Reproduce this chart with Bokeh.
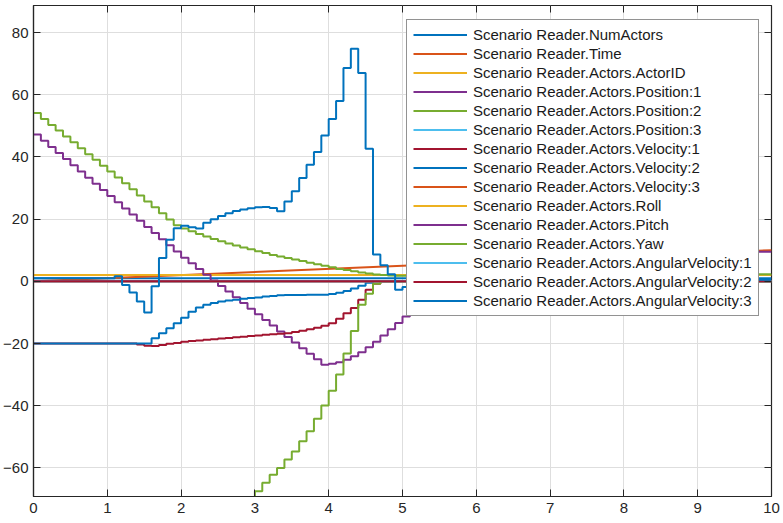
from bokeh.plotting import figure
from bokeh.models import Range1d, LinearAxis, FixedTicker, Legend, LegendItem
from bokeh.embed import file_html
from bokeh.resources import INLINE

# ---- data -------------------------------------------------------------
T = [0.0, 0.1, 0.2, 0.3, 0.4, 0.5, 0.6, 0.7, 0.8, 0.9,
     1.0, 1.1, 1.2, 1.3, 1.4, 1.5, 1.6, 1.7, 1.8, 1.9,
     2.0, 2.1, 2.2, 2.3, 2.4, 2.5, 2.6, 2.7, 2.8, 2.9,
     3.0, 3.1, 3.2, 3.3, 3.4, 3.5, 3.6, 3.7, 3.8, 3.9,
     4.0, 4.1, 4.2, 4.3, 4.4, 4.5, 4.6, 4.7, 4.8, 4.9,
     5.0]
T_TAIL = [5.1, 5.5, 6.0, 7.0, 8.0, 9.0, 10.0]
T_SPAN = [0.0, 10.0]

NUM_ACTORS = [1.0, 1.0]
TIME = [0.0, 10.0]
ACTOR_ID = [2.0, 2.0]

POSITION_1 = [47.2, 45.2, 43.2, 41.3, 39.3, 37.3, 35.3, 33.3, 31.4, 29.4,
              27.4, 25.4, 23.4, 21.5, 19.5, 17.5, 15.5, 13.5, 11.6, 9.6,
              7.6, 5.8, 4.0, 2.1, 0.3, -1.5, -3.3, -5.1, -7.0, -8.8,
              -10.6, -12.4, -14.2, -16.1, -17.9, -19.7, -21.5, -23.3, -25.1, -26.8,
              -26.5, -26.0, -25.2, -24.1, -22.8, -21.2, -19.4, -17.4, -15.4, -13.4,
              -11.3]
POSITION_1_TAIL = [-9.3, -6.0, -2.0, 3.0, 6.5, 9.5, 9.5]

POSITION_2 = [54.1, 52.2, 50.3, 48.5, 46.6, 44.7, 42.8, 40.9, 39.1, 37.2,
              35.3, 33.4, 31.5, 29.6, 27.6, 25.7, 23.8, 21.9, 19.9, 18.0,
              17.0, 16.1, 15.2, 14.4, 13.6, 12.9, 12.2, 11.5, 10.9, 10.3,
              9.7, 9.1, 8.5, 8.0, 7.5, 7.0, 6.5, 6.0, 5.5, 5.0,
              4.5, 4.0, 3.6, 3.2, 2.8, 2.5, 2.2, 2.0, 1.9, 1.8,
              1.8]
POSITION_2_TAIL = [1.8, 1.9, 2.0, 2.1, 2.2, 2.3, 2.3]

POSITION_3 = [0.0, 0.0]

VELOCITY_1 = [-20.0, -20.0, -20.0, -20.0, -20.0, -20.0, -20.0, -20.0, -20.0, -20.0,
              -20.0, -20.0, -20.0, -20.0, -20.3, -20.7, -20.8, -20.5, -20.1, -19.8,
              -19.4, -19.2, -19.0, -18.8, -18.6, -18.4, -18.2, -18.0, -17.8, -17.6,
              -17.4, -17.2, -17.0, -16.9, -16.7, -16.3, -15.9, -15.4, -14.9, -14.3,
              -13.5, -12.0, -10.3, -8.6, -5.9, -2.7, -0.8, 0.0, 0.0, 0.0,
              0.0]
VELOCITY_1_TAIL = [0.0, 0.0, 0.0, 0.0, 0.0, 0.0, 0.0]

VELOCITY_2 = [-20.0, -20.0, -20.0, -20.0, -20.0, -20.0, -20.0, -20.0, -20.0, -20.0,
              -20.0, -20.0, -20.0, -20.0, -20.0, -20.0, -18.3, -16.7, -15.1, -13.5,
              -11.7, -9.8, -8.4, -7.5, -7.0, -6.5, -6.2, -5.9, -5.6, -5.4,
              -5.2, -4.9, -4.7, -4.5, -4.4, -4.4, -4.4, -4.3, -4.3, -4.3,
              -4.1, -3.7, -3.1, -2.3, -1.4, -0.5, 0.0, 0.0, 0.0, 0.0,
              0.0]
VELOCITY_2_TAIL = [0.0, 0.0, 0.0, 0.0, 0.0, 0.0, 0.0]

VELOCITY_3 = [0.0, 0.0]
ROLL = [0.0, 0.0]
PITCH = [0.0, 0.0]

YAW_T = [2.5, 2.6, 2.7, 2.8, 2.9, 3.0, 3.1, 3.2, 3.3, 3.4,
         3.5, 3.6, 3.7, 3.8, 3.9, 4.0, 4.1, 4.2, 4.3, 4.4,
         4.5, 4.6, 4.7, 4.8, 4.9, 5.0]
YAW = [-80.0, -77.5, -75.0, -72.5, -70.0, -67.5, -64.8, -62.2, -60.0, -57.3,
       -54.7, -51.4, -48.2, -44.2, -39.9, -35.2, -30.0, -23.2, -16.0, -7.5,
       -4.0, -0.8, 0.0, 0.0, 0.0, 0.0]
YAW_TAIL = [0.0, 0.0, 0.0, 0.0, 0.0, 0.0, 0.0]

ANG_VEL_1 = [0.0, 0.0]
ANG_VEL_2 = [0.0, 0.0]

ANG_VEL_3 = [1.0, 1.0, 1.0, 1.0, 1.0, 1.0, 1.0, 1.0, 1.0, 1.0,
             1.0, 1.6, -1.2, -3.6, -6.5, -10.0, -1.6, 7.5, 13.4, 17.1,
             17.9, 17.4, 17.0, 18.8, 20.0, 21.0, 21.9, 22.6, 23.1, 23.5,
             23.8, 23.9, 23.6, 22.5, 25.7, 29.0, 33.2, 37.5, 41.6, 46.9,
             52.2, 58.0, 68.6, 74.8, 67.0, 42.6, 8.6, 5.2, 2.3, -2.7,
             -1.8]
ANG_VEL_3_TAIL = [-1.0, 0.5, 0.5, 0.5, 0.5, 0.5, 0.5]

LABELS = ["Scenario Reader.NumActors", "Scenario Reader.Time",
          "Scenario Reader.Actors.ActorID", "Scenario Reader.Actors.Position:1",
          "Scenario Reader.Actors.Position:2", "Scenario Reader.Actors.Position:3",
          "Scenario Reader.Actors.Velocity:1", "Scenario Reader.Actors.Velocity:2",
          "Scenario Reader.Actors.Velocity:3", "Scenario Reader.Actors.Roll",
          "Scenario Reader.Actors.Pitch", "Scenario Reader.Actors.Yaw",
          "Scenario Reader.Actors.AngularVelocity:1",
          "Scenario Reader.Actors.AngularVelocity:2",
          "Scenario Reader.Actors.AngularVelocity:3"]

X_TICKS = [0, 1, 2, 3, 4, 5, 6, 7, 8, 9, 10]
Y_TICKS = [-60, -40, -20, 0, 20, 40, 60, 80]

BLUE, ORANGE, YELLOW, PURPLE = "#0072BD", "#D95319", "#EDB120", "#7E2F8E"
GREEN, CYAN, DRED = "#77AC30", "#4DBEEE", "#A2142F"
COLORS = [BLUE, ORANGE, YELLOW, PURPLE, GREEN, CYAN, DRED,
          BLUE, ORANGE, YELLOW, PURPLE, GREEN, CYAN, DRED, BLUE]

# ---- figure -----------------------------------------------------------
AX = "#262626"
FONT = "Liberation Sans"

p = figure(width=783, height=523, output_backend="svg", toolbar_location=None,
           x_range=Range1d(0, 10), y_range=Range1d(-69.2, 88.7),
           min_border_left=32, min_border_right=12, min_border_top=5,
           min_border_bottom=27)
p.background_fill_color = "white"
p.border_fill_color = "white"
p.outline_line_color = AX
p.outline_line_width = 1.2

p.xaxis.ticker = FixedTicker(ticks=X_TICKS)
p.yaxis.ticker = FixedTicker(ticks=Y_TICKS)
p.xgrid.ticker = FixedTicker(ticks=X_TICKS)
p.ygrid.ticker = FixedTicker(ticks=Y_TICKS)
p.grid.grid_line_color = "#dedede"
p.grid.grid_line_width = 1

for ax in (p.xaxis[0], p.yaxis[0]):
    ax.axis_line_color = AX
    ax.axis_line_width = 1.2
    ax.major_tick_line_color = AX
    ax.major_tick_in = 7
    ax.major_tick_out = 0
    ax.minor_tick_line_color = None
    ax.major_label_text_font = FONT
    ax.major_label_text_font_size = "15px"
    ax.major_label_text_color = AX
p.xaxis[0].major_label_standoff = 6
p.yaxis[0].major_label_standoff = 5

top = LinearAxis(ticker=FixedTicker(ticks=X_TICKS))
right = LinearAxis(ticker=FixedTicker(ticks=Y_TICKS))
for ax in (top, right):
    ax.axis_line_color = None
    ax.major_tick_line_color = AX
    ax.major_tick_in = 7
    ax.major_tick_out = 0
    ax.minor_tick_line_color = None
    ax.major_label_text_font_size = "1px"
    ax.major_label_text_color = None
    ax.major_label_standoff = 0
p.add_layout(top, "above")
p.add_layout(right, "right")

LW = 2
r = []
r.append(p.line(T_SPAN, NUM_ACTORS, color=COLORS[0], line_width=LW))
r.append(p.line(T_SPAN, TIME, color=COLORS[1], line_width=LW))
r.append(p.line(T_SPAN, ACTOR_ID, color=COLORS[2], line_width=LW))
r.append(p.step(T + T_TAIL, POSITION_1 + POSITION_1_TAIL, mode="after",
                color=COLORS[3], line_width=LW))
r.append(p.step(T + T_TAIL, POSITION_2 + POSITION_2_TAIL, mode="after",
                color=COLORS[4], line_width=LW))
r.append(p.line(T_SPAN, POSITION_3, color=COLORS[5], line_width=LW))
r.append(p.step(T + T_TAIL, VELOCITY_1 + VELOCITY_1_TAIL, mode="after",
                color=COLORS[6], line_width=LW))
r.append(p.step(T + T_TAIL, VELOCITY_2 + VELOCITY_2_TAIL, mode="after",
                color=COLORS[7], line_width=LW))
r.append(p.line(T_SPAN, VELOCITY_3, color=COLORS[8], line_width=LW))
r.append(p.line(T_SPAN, ROLL, color=COLORS[9], line_width=LW))
r.append(p.line(T_SPAN, PITCH, color=COLORS[10], line_width=LW))
r.append(p.step(YAW_T + T_TAIL, YAW + YAW_TAIL, mode="after",
                color=COLORS[11], line_width=LW))
r.append(p.line(T_SPAN, ANG_VEL_1, color=COLORS[12], line_width=LW))
r.append(p.line(T_SPAN, ANG_VEL_2, color=COLORS[13], line_width=LW))
r.append(p.step(T + T_TAIL, ANG_VEL_3 + ANG_VEL_3_TAIL, mode="after",
                color=COLORS[14], line_width=LW))

items = [LegendItem(label=lab, renderers=[rr]) for lab, rr in zip(LABELS, r)]
legend = Legend(items=items, location=(373, 180), orientation="vertical",
                label_text_font=FONT, label_text_font_size="15px",
                label_text_color="#1a1a1a",
                glyph_width=54, glyph_height=17, label_height=17,
                label_standoff=6, padding=6, spacing=2, margin=0,
                border_line_color=AX, border_line_width=1.2,
                background_fill_color="white", background_fill_alpha=1.0)
p.add_layout(legend, "center")

open("out.html", "w").write(file_html(p, INLINE))
